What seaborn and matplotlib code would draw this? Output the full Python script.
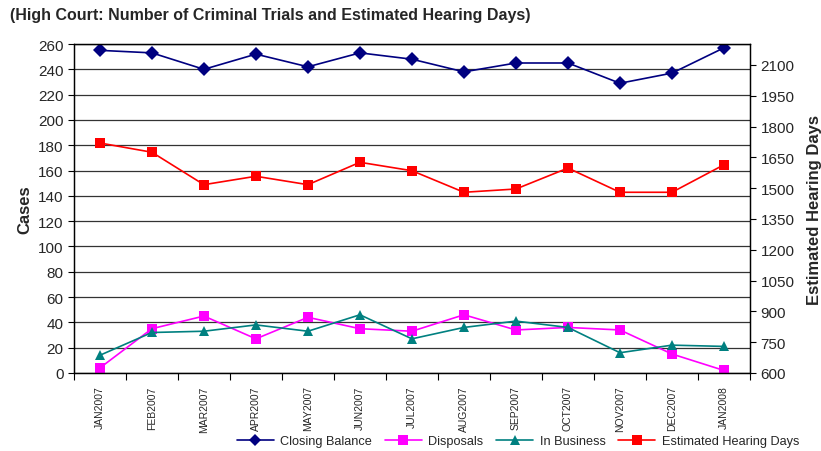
import numpy as np
import pandas as pd
import seaborn as sns
import matplotlib
matplotlib.use("Agg")
import matplotlib.pyplot as plt

months = ["JAN2007", "FEB2007", "MAR2007", "APR2007", "MAY2007", "JUN2007", "JUL2007",
          "AUG2007", "SEP2007", "OCT2007", "NOV2007", "DEC2007", "JAN2008"]
closing_balance = [255, 253, 240, 252, 242, 253, 248, 238, 245, 245, 229, 237, 257]
disposals = [4, 35, 45, 27, 44, 35, 33, 46, 34, 36, 34, 15, 2]
in_business = [14, 32, 33, 38, 33, 46, 27, 36, 41, 36, 16, 22, 21]
hearing_days = [1720, 1675, 1517, 1558, 1517, 1626, 1585, 1480, 1496, 1598, 1480, 1480, 1614]

sns.set_style("white")
plt.rcParams['font.family'] = ['Liberation Sans', 'DejaVu Sans']

idx = np.arange(len(months))
cases = pd.DataFrame({
    "pos": np.tile(idx, 3),
    "value": closing_balance + disposals + in_business,
    "series": ["Closing Balance"] * 13 + ["Disposals"] * 13 + ["In Business"] * 13,
})
days = pd.DataFrame({"pos": idx, "value": hearing_days, "series": "Estimated Hearing Days"})

fig = plt.figure(figsize=(8.21, 4.52), dpi=100)
ax = fig.add_axes([0.090, 0.1726, 0.8235, 0.7278])
ax2 = ax.twinx()

pal = {"Closing Balance": "#000080", "Disposals": "#FF00FF", "In Business": "#008080"}
mk = {"Closing Balance": "D", "Disposals": "s", "In Business": "^"}
sns.lineplot(data=cases, x="pos", y="value", hue="series", style="series",
             palette=pal, markers=mk, dashes=False, markersize=7, linewidth=1.2,
             markeredgewidth=0, ax=ax, legend=False)
sns.lineplot(data=days, x="pos", y="value", color="#FF0000", marker="s",
             markersize=7, linewidth=1.2, markeredgewidth=0, ax=ax2, legend=False)

ax.set_xlim(-0.5, 12.5)
ax.set_ylim(0, 260)
ax.set_yticks(range(0, 261, 20))
ax2.set_ylim(600, 2202)
ax2.set_yticks(range(600, 2101, 150))

ax.set_xticks(np.arange(-0.5, 13, 1))
ax.set_xticklabels([])
ax.set_xticks(idx, minor=True)
ax.set_xticklabels(months, minor=True, rotation=90, fontsize=7.5)
ax.tick_params(axis="x", which="major", direction="out", length=5, width=0.8, color="black", bottom=True)
ax.tick_params(axis="x", which="minor", length=0, pad=9)
ax.tick_params(axis="y", direction="out", length=4, width=0.8, color="black", left=True, labelsize=11)
ax2.tick_params(axis="y", direction="out", length=4, width=0.8, color="black", right=True, labelsize=11)

ax.yaxis.grid(True, color="#333333", linewidth=0.9)
ax.set_axisbelow(True)
for a in (ax, ax2):
    for s in a.spines.values():
        s.set_visible(True)
        s.set_color("black")
        s.set_linewidth(0.9)

ax.set_xlabel("")
ax.set_ylabel("Cases", fontsize=12, fontweight="bold", labelpad=4)
ax2.set_ylabel("Estimated Hearing Days", fontsize=12, fontweight="bold", labelpad=9)

fig.text(0.012, 0.965, "(High Court: Number of Criminal Trials and Estimated Hearing Days)",
         fontsize=11.5, fontweight="bold", va="center", ha="left")

handles = [
    plt.Line2D([], [], color="#000080", marker="D", markersize=6, linewidth=1.2, markeredgewidth=0),
    plt.Line2D([], [], color="#FF00FF", marker="s", markersize=7, linewidth=1.2, markeredgewidth=0),
    plt.Line2D([], [], color="#008080", marker="^", markersize=7, linewidth=1.2, markeredgewidth=0),
    plt.Line2D([], [], color="#FF0000", marker="s", markersize=7, linewidth=1.2, markeredgewidth=0),
]
labels = ["Closing Balance", "Disposals", "In Business", "Estimated Hearing Days"]
fig.legend(handles, labels, loc="center", bbox_to_anchor=(0.631, 0.022), ncol=4,
           frameon=False, fontsize=9.2, handlelength=2.9, columnspacing=1.0, handletextpad=0.5)

fig.savefig("out.png", dpi=100)
